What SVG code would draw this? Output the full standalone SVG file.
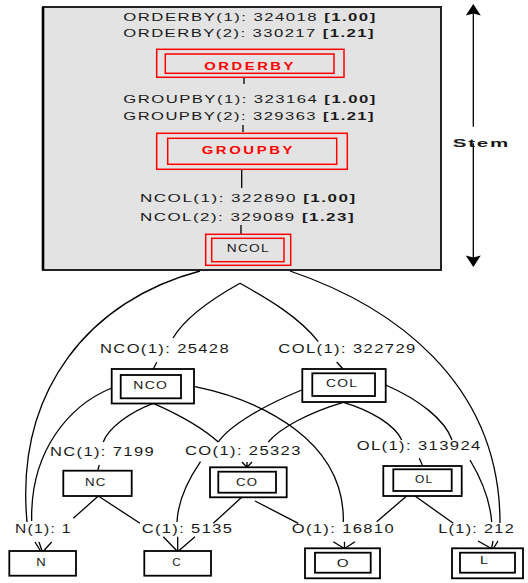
<svg xmlns="http://www.w3.org/2000/svg" width="528" height="583" viewBox="0 0 528 583">
<style>
.t{font-family:"Liberation Sans",Arial,sans-serif;fill:#1a1a1a;letter-spacing:1px}
.up{font-size:11.5px}
.lo{font-size:12px}
.bx{font-size:10.5px}
.b{font-weight:bold}
.red{fill:#ff0000;font-weight:bold;font-size:11.5px;letter-spacing:2px}
.rbox{fill:none;stroke:#ff0000;stroke-width:1.5}
.kbox{fill:#fff;stroke:#000;stroke-width:1.8}
.edge{fill:none;stroke:#000;stroke-width:1.3}
</style>
<defs>
<path id="head" d="M0,0 L-7.5,11.5 L0,9.5 L7.5,11.5 Z" fill="#000"/>
</defs>
<rect width="528" height="583" fill="#fff"/>

<!-- stem panel -->
<g id="stem">
<rect x="43" y="7" width="398" height="263" fill="#e3e3e3" stroke="#222" stroke-width="2"/>
<path d="M43,7 V270" stroke="#000" stroke-width="2.6" fill="none"/>
<text class="t up" x="123.3" y="21.3" textLength="253.4" lengthAdjust="spacingAndGlyphs">ORDERBY(1): 324018 <tspan class="b">[1.00]</tspan></text>
<text class="t up" x="123.3" y="37.3" textLength="251.7" lengthAdjust="spacingAndGlyphs">ORDERBY(2): 330217 <tspan class="b">[1.21]</tspan></text>
<text class="t up" x="123.3" y="103.3" textLength="253.4" lengthAdjust="spacingAndGlyphs">GROUPBY(1): 323164 <tspan class="b">[1.00]</tspan></text>
<text class="t up" x="123.3" y="120" textLength="251.7" lengthAdjust="spacingAndGlyphs">GROUPBY(2): 329363 <tspan class="b">[1.21]</tspan></text>
<text class="t up" x="140" y="202.3" textLength="216.7" lengthAdjust="spacingAndGlyphs">NCOL(1): 322890 <tspan class="b">[1.00]</tspan></text>
<text class="t up" x="140" y="220.7" textLength="215" lengthAdjust="spacingAndGlyphs">NCOL(2): 329089 <tspan class="b">[1.23]</tspan></text>
<g class="edge">
<path d="M244,78 V84"/>
<path d="M243,125 V132"/>
<path d="M241.7,170 V188"/>
<path d="M241,225 V234"/>
</g>
</g>

<g id="orderby">
<rect class="rbox" x="156.7" y="49.3" width="187.3" height="28"/>
<rect class="rbox" x="165.3" y="54" width="168.7" height="19.3"/>
<text class="t red" x="204.3" y="70" textLength="91.7" lengthAdjust="spacingAndGlyphs">ORDERBY</text>
</g>

<g id="groupby">
<rect class="rbox" x="156.7" y="133.3" width="190.6" height="36"/>
<rect class="rbox" x="167.7" y="138.3" width="169" height="26"/>
<text class="t red" x="201.7" y="154" textLength="93.3" lengthAdjust="spacingAndGlyphs">GROUPBY</text>
</g>

<g id="ncol">
<rect class="rbox" x="205.7" y="234.3" width="85" height="31"/>
<rect class="rbox" x="211.7" y="238.3" width="72.3" height="23.4"/>
<text class="t bx" x="226.7" y="252" textLength="43.3" lengthAdjust="spacingAndGlyphs">NCOL</text>
</g>

<!-- vertical extent marker -->
<g id="stem-marker">
<path class="edge" d="M473.3,10 V126.7 M473.3,143.3 V261"/>
<use href="#head" transform="translate(473.3,4)"/>
<use href="#head" transform="translate(473.3,267) rotate(180)"/>
<text class="t b" x="452.7" y="146.7" font-size="11.5" textLength="57.3" lengthAdjust="spacingAndGlyphs">Stem</text>
</g>

<!-- connectors -->
<g id="connectors" class="edge">
<path d="M200,271 C90,300 15,390 27,522"/>
<path d="M290,271 C390,305 500,380 500,523"/>
<path d="M240,283.3 C210,300 185,318 173,338"/>
<path d="M240,283.3 C270,300 300,318 318.3,341.7"/>
<path d="M156.7,362.3 L153.3,369"/>
<path d="M336.7,362 L343,369"/>
<path d="M111.7,388 C70,405 30,450 31.7,521"/>
<path d="M153.3,403.3 C130,412 108,428 103.3,442"/>
<path d="M153.3,403.3 C180,415 205,430 218.3,442"/>
<path d="M195,386.7 C260,400 345,440 343.3,522"/>
<path d="M301.7,390 C265,405 230,425 218.3,442"/>
<path d="M343.3,402.3 C310,412 280,428 268.3,442"/>
<path d="M343.3,402.3 C370,410 395,425 401.7,440"/>
<path d="M385.7,385 C420,400 445,420 452,440"/>
<path d="M99.3,465 L97.7,470.7"/>
<path d="M242,462 L247,467.3 M252,462 L247,467.3 M247,462 V467.3"/>
<path d="M419.3,458.3 L422.7,466"/>
<path d="M200.5,461.7 C188,480 178,500 177,522"/>
<path d="M470,460 C482,480 490,500 491.7,522"/>
<path d="M98.3,496 L73.3,518.3"/>
<path d="M98.3,496 L140,523.3"/>
<path d="M241.7,497.3 L213.3,523.3"/>
<path d="M255,501 L298.3,523.3"/>
<path d="M406.7,496 L376.7,521.7"/>
<path d="M415,496 L453.3,523.3"/>
<path d="M35,542 L40.5,551 M39,542 L42,551 M51.7,542 L43.5,551"/>
<path d="M163.3,536.7 L177,551 M177.7,536.7 V551 M195,536.7 L178.5,551"/>
<path d="M333.3,541.7 L344,548.3 M344.5,541.7 V548.3 M355,541.7 L345,548.3"/>
<path d="M478,541 L491,548.3 M493,541 L491.5,548.3 M498,541 L493.5,548.3"/>
</g>

<!-- lattice labels -->
<g id="labels">
<text class="t lo" x="100" y="352.7" textLength="130" lengthAdjust="spacingAndGlyphs">NCO(1): 25428</text>
<text class="t lo" x="278.3" y="352.7" textLength="138.4" lengthAdjust="spacingAndGlyphs">COL(1): 322729</text>
<text class="t lo" x="50" y="456" textLength="105" lengthAdjust="spacingAndGlyphs">NC(1): 7199</text>
<text class="t lo" x="185" y="455" textLength="116.7" lengthAdjust="spacingAndGlyphs">CO(1): 25323</text>
<text class="t lo" x="356.7" y="450" textLength="125" lengthAdjust="spacingAndGlyphs">OL(1): 313924</text>
<text class="t lo" x="15" y="532.7" textLength="56.7" lengthAdjust="spacingAndGlyphs">N(1): 1</text>
<text class="t lo" x="141.7" y="532.7" textLength="91.6" lengthAdjust="spacingAndGlyphs">C(1): 5135</text>
<text class="t lo" x="291.7" y="533.3" textLength="103.3" lengthAdjust="spacingAndGlyphs">O(1): 16810</text>
<text class="t lo" x="438.3" y="533.3" textLength="76.7" lengthAdjust="spacingAndGlyphs">L(1): 212</text>
</g>

<g id="nco">
<rect class="kbox" x="111.7" y="369" width="82.3" height="34.5"/>
<rect class="kbox" x="120.7" y="375" width="60.3" height="23.3"/>
<text class="t bx" x="133.3" y="389.3" textLength="35" lengthAdjust="spacingAndGlyphs">NCO</text>
</g>
<g id="col">
<rect class="kbox" x="302.3" y="369" width="83.4" height="33"/>
<rect class="kbox" x="312.3" y="373.3" width="62.7" height="22.7"/>
<text class="t bx" x="326" y="387.3" textLength="32.3" lengthAdjust="spacingAndGlyphs">COL</text>
</g>
<g id="nc">
<rect class="kbox" x="63.3" y="470.7" width="68.4" height="25.3"/>
<text class="t bx" x="85" y="485.7" textLength="21.7" lengthAdjust="spacingAndGlyphs">NC</text>
</g>
<g id="co">
<rect class="kbox" x="210" y="467.3" width="76.7" height="30"/>
<rect class="kbox" x="218.3" y="471.7" width="57.7" height="21"/>
<text class="t bx" x="236" y="485.7" textLength="22.3" lengthAdjust="spacingAndGlyphs">CO</text>
</g>
<g id="ol">
<rect class="kbox" x="383.3" y="466" width="78.4" height="30"/>
<rect class="kbox" x="393.3" y="469.3" width="58.4" height="21.7"/>
<text class="t bx" x="415" y="483.3" textLength="18.3" lengthAdjust="spacingAndGlyphs">OL</text>
</g>
<g id="n">
<rect class="kbox" x="9.3" y="551" width="66.7" height="24.7"/>
<text class="t bx" x="36.3" y="565.7" textLength="10.7" lengthAdjust="spacingAndGlyphs">N</text>
</g>
<g id="c">
<rect class="kbox" x="144.3" y="551" width="66.7" height="24.7"/>
<text class="t bx" x="172.3" y="565.7" textLength="9.4" lengthAdjust="spacingAndGlyphs">C</text>
</g>
<g id="o">
<rect class="kbox" x="305" y="548.3" width="75" height="30"/>
<rect class="kbox" x="315" y="552.7" width="55.7" height="20"/>
<text class="t bx" x="336.7" y="567.3" textLength="13.3" lengthAdjust="spacingAndGlyphs">O</text>
</g>
<g id="l">
<rect class="kbox" x="452" y="548.3" width="71" height="30"/>
<rect class="kbox" x="460" y="552.7" width="55" height="20"/>
<text class="t bx" x="480" y="564" textLength="9.3" lengthAdjust="spacingAndGlyphs">L</text>
</g>
</svg>
